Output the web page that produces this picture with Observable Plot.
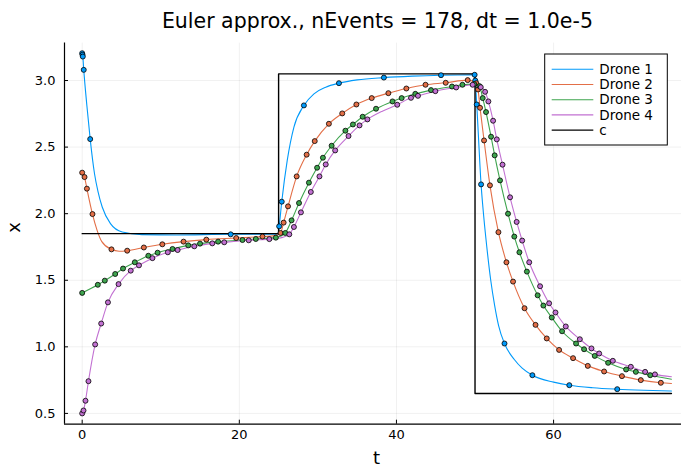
<!DOCTYPE html>
<html><head><meta charset="utf-8">
<script src="https://cdn.jsdelivr.net/npm/d3@7"></script>
<script src="https://cdn.jsdelivr.net/npm/@observablehq/plot@0.6"></script>
<style>body{margin:0;background:#fff;font-family:"DejaVu Sans",sans-serif;}</style>
</head><body><div id="chart"></div>
<script>
const titleText = "Euler approx., nEvents = 178, dt = 1.0e-5";
const xLabel = "t";
const yLabel = "x";
const xTicks = [0, 20, 40, 60];
const yTicks = [0.5, 1.0, 1.5, 2.0, 2.5, 3.0];
const xDomain = [-2.25, 76.28];
const yDomain = [0.419, 3.281];
const seriesNames = ["Drone 1", "Drone 2", "Drone 3", "Drone 4", "c"];
const seriesColors = ["#009AFA", "#E36F47", "#3EA44E", "#C271D2", "#000000"];

// reference signal c (step levels)
const cT = [0, 25, 50, 75];
const cX = [1.85, 3.05, 0.65, 0.65];

// Drone 1 event markers
const d1T = [0, 0.04, 0.08, 0.2, 1.02, 18.9, 25.07, 25.4, 28.22, 32.68, 38.4, 45.67, 49.95, 50.03, 50.22, 50.77, 53.75, 57.3, 62.0, 68.1];
const d1X = [3.205, 3.193, 3.18, 3.08, 2.56, 1.845, 1.905, 2.09, 2.813, 2.98, 3.022, 3.04, 3.043, 3.0, 2.82, 2.22, 1.025, 0.787, 0.712, 0.682];
// Drone 1 extra line readings
const d1LT = [0.6, 1.57, 2.0, 2.55, 3.6, 5.1, 7.6, 12, 24.9, 26.1, 26.95, 29.5, 31.0, 35, 42, 50.4, 51.0, 51.5, 52.0, 52.5, 53.0, 55.0, 56.0, 60, 65, 71.5, 75];
const d1LX = [2.81, 2.3, 2.17, 2.05, 1.925, 1.862, 1.843, 1.84, 1.845, 2.4, 2.65, 2.9, 2.95, 3.005, 3.033, 2.62, 2.05, 1.75, 1.5, 1.31, 1.16, 0.905, 0.84, 0.735, 0.693, 0.674, 0.668];

// Drone 2
const d2T = [0, 0.3, 0.6, 1.31, 3.73, 5.73, 7.85, 10.2, 12.9, 15.8, 19.6, 22.95, 25.25, 25.64, 26.2, 27.3, 28.57, 29.6, 31.4, 33.1, 34.9, 36.85, 38.97, 41.26, 43.7, 46.27, 49.07, 50.17, 50.38, 50.64, 51.15, 51.9, 52.98, 54.0, 54.84, 56.3, 57.7, 59.13, 60.7, 62.48, 64.35, 66.43, 68.7, 71.1, 73.65];
const d2X = [2.308, 2.275, 2.188, 1.997, 1.732, 1.722, 1.746, 1.77, 1.79, 1.805, 1.817, 1.828, 1.855, 1.933, 2.055, 2.28, 2.443, 2.545, 2.675, 2.753, 2.82, 2.868, 2.905, 2.94, 2.968, 2.983, 3.003, 2.98, 2.933, 2.795, 2.55, 2.213, 1.861, 1.635, 1.49, 1.29, 1.165, 1.063, 0.977, 0.915, 0.857, 0.815, 0.78, 0.75, 0.73];
const d2LT = [1.9, 2.5, 4.7, 24.5, 75];
const d2LX = [1.875, 1.79, 1.718, 1.835, 0.725];

// Drone 3
const d3T = [0, 1.99, 2.88, 4.2, 5.2, 6.7, 8.42, 9.6, 11.5, 13.5, 15.0, 17.3, 20.4, 22.1, 24.65, 25.85, 26.65, 27.6, 28.86, 29.9, 30.64, 31.75, 33.5, 34.46, 35.7, 37.4, 39.5, 40.66, 42.4, 44.4, 47.07, 48.4, 49.9, 50.56, 50.98, 51.4, 52.04, 52.5, 53.18, 54.2, 55.0, 55.65, 56.6, 57.97, 58.7, 59.77, 61.08, 62.86, 63.88, 65.24, 66.94, 69.23, 70.47, 72.3];
const d3X = [1.405, 1.466, 1.497, 1.547, 1.588, 1.635, 1.684, 1.707, 1.735, 1.762, 1.775, 1.79, 1.802, 1.81, 1.82, 1.855, 1.95, 2.08, 2.233, 2.345, 2.42, 2.51, 2.623, 2.67, 2.728, 2.788, 2.843, 2.868, 2.9, 2.928, 2.955, 2.968, 2.973, 2.958, 2.868, 2.763, 2.578, 2.438, 2.25, 2.0, 1.828, 1.71, 1.565, 1.387, 1.31, 1.22, 1.117, 1.025, 0.982, 0.932, 0.88, 0.83, 0.812, 0.787];
const d3LT = [25.2, 75];
const d3LX = [1.83, 0.757];

// Drone 4
const d4T = [0, 0.17, 0.42, 0.8, 1.65, 2.42, 3.28, 4.63, 6.18, 7.23, 8.94, 10.9, 12.15, 14.27, 16.56, 18.08, 21.2, 23.82, 26.36, 26.95, 27.84, 29.1, 30.2, 31.0, 32.2, 33.9, 35.3, 36.3, 40.1, 41.85, 42.74, 44.95, 47.6, 49.7, 50.73, 51.28, 51.7, 52.3, 52.77, 53.5, 54.46, 55.3, 56.0, 56.9, 58.28, 59.43, 60.24, 61.55, 63.34, 64.82, 65.8, 67.54, 69.83, 71.65, 72.9];
const d4X = [0.5, 0.522, 0.595, 0.742, 1.018, 1.175, 1.334, 1.471, 1.572, 1.612, 1.666, 1.71, 1.727, 1.755, 1.777, 1.785, 1.8, 1.809, 1.845, 1.9, 2.01, 2.163, 2.28, 2.37, 2.475, 2.583, 2.663, 2.708, 2.818, 2.87, 2.885, 2.92, 2.948, 2.968, 2.95, 2.915, 2.843, 2.698, 2.558, 2.368, 2.123, 1.938, 1.798, 1.635, 1.455, 1.327, 1.258, 1.153, 1.057, 0.988, 0.95, 0.895, 0.85, 0.812, 0.793];
const d4LT = [25.0, 25.5, 38.2, 75];
const d4LX = [1.815, 1.822, 2.77, 0.775];

const droneMarks = [[d1T, d1X], [d2T, d2X], [d3T, d3X], [d4T, d4X]];
const droneExtra = [[d1LT, d1LX], [d2LT, d2LX], [d3LT, d3LX], [d4LT, d4LX]];

const markers = [];
const lines = [];
droneMarks.forEach(([T, X], i) => {
  const pts = T.map((t, j) => ({t, x: X[j], name: seriesNames[i]}));
  markers.push(...pts);
  const [ET, EX] = droneExtra[i];
  const all = pts.concat(ET.map((t, j) => ({t, x: EX[j], name: seriesNames[i]})));
  all.sort((a, b) => a.t - b.t);
  lines.push(...all);
});
const cData = cT.map((t, j) => ({t, x: cX[j], name: "c"}));

const W = 681, H = 467;
const mL = 64, mT = 42.6, mB = 43.3, mR = 0;
const font = "DejaVu Sans, sans-serif";

const chart = Plot.plot({
  width: W, height: H,
  marginLeft: mL, marginRight: mR, marginTop: mT, marginBottom: mB,
  style: {fontFamily: font, background: "#fff"},
  x: {domain: xDomain, ticks: xTicks},
  y: {domain: yDomain, ticks: yTicks},
  color: {domain: seriesNames, range: seriesColors},
  marks: [
    Plot.gridX(xTicks, {stroke: "#000", strokeOpacity: 0.1, strokeWidth: 0.6}),
    Plot.gridY(yTicks, {stroke: "#000", strokeOpacity: 0.1, strokeWidth: 0.6}),
    Plot.line(lines, {x: "t", y: "x", z: "name", stroke: "name", strokeWidth: 1.1, curve: "monotone-x"}),
    Plot.line(cData, {x: "t", y: "x", stroke: "#000", strokeWidth: 1.4, curve: "step-after"}),
    Plot.dot(markers, {x: "t", y: "x", fill: "name", stroke: "#000", strokeWidth: 0.8, r: 2.5}),
    Plot.ruleX([xDomain[0]], {stroke: "#000", strokeWidth: 1.2}),
    Plot.ruleY([yDomain[0]], {stroke: "#000", strokeWidth: 1.2}),
    Plot.axisX(xTicks, {anchor: "bottom", tickSize: -4, tickPadding: 10, fontSize: 13, fill: "#000", label: null}),
    Plot.axisY(yTicks, {anchor: "left", tickSize: -4, tickPadding: 13, fontSize: 13, fill: "#000", label: null, tickFormat: d3.format(".1f")}),
    Plot.text([titleText], {frameAnchor: "top", dx: 4.4, dy: -22, lineAnchor: "middle", fontSize: 20.5, fill: "#000", text: d => d}),
    Plot.text([xLabel], {frameAnchor: "bottom", dx: 3.5, dy: 34, lineAnchor: "middle", fontSize: 18, fill: "#000", text: d => d}),
    Plot.text([yLabel], {frameAnchor: "left", dx: -50, dy: -1, rotate: -90, lineAnchor: "middle", fontSize: 18, fill: "#000", text: d => d})
  ]
});

document.getElementById("chart").appendChild(chart);

// legend (inside plot, top right)
const svg = d3.select(chart);
const lg = svg.append("g").attr("font-family", font).attr("font-size", 13.5).attr("text-anchor", "start");
const bx = 544.7, by = 54, bw = 122.6, bh = 91;
lg.append("rect").attr("x", bx).attr("y", by).attr("width", bw).attr("height", bh)
  .attr("fill", "#fff").attr("stroke", "#000").attr("stroke-width", 1);
const rowY = [69.3, 84.5, 99.7, 114.9, 130.1];
seriesNames.forEach((n, i) => {
  lg.append("line").attr("x1", 551.7).attr("x2", 593.3).attr("y1", rowY[i]).attr("y2", rowY[i])
    .attr("stroke", seriesColors[i]).attr("stroke-width", i === 4 ? 1.4 : 1.1);
  lg.append("text").attr("x", 599.3).attr("y", rowY[i]).attr("dy", "0.35em")
    .attr("text-anchor", "start").attr("fill", "#000").text(n);
});
</script>
</body></html>
